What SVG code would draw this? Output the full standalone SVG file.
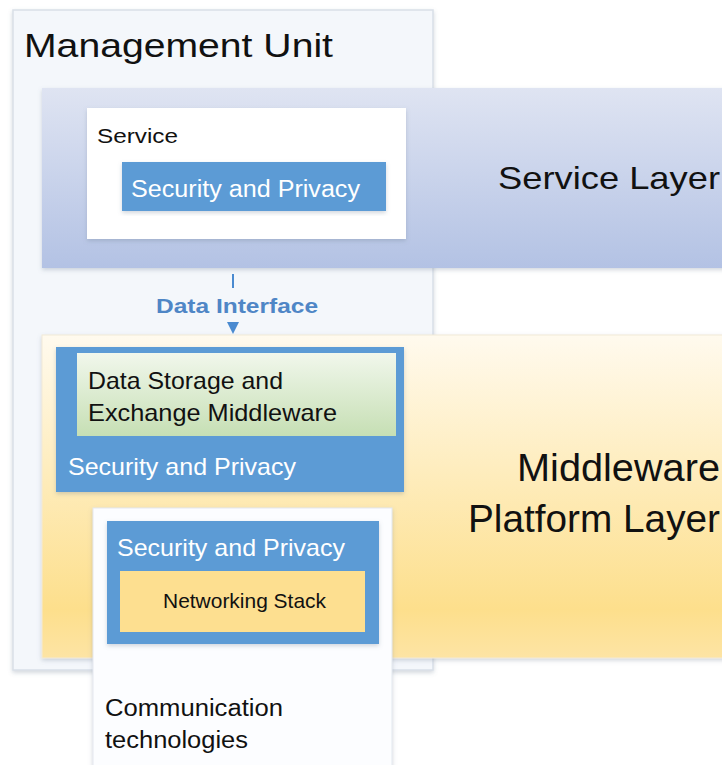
<svg xmlns="http://www.w3.org/2000/svg" width="722" height="765" viewBox="0 0 722 765">
<defs>
<style>
text{font-family:"Liberation Sans",Arial,sans-serif;fill:#111}
.w{fill:#fff}
.blue{fill:#5b9bd5}
.lbl{fill:#4f86c6;font-weight:bold}
</style>
<linearGradient id="gSvc" x1="0" y1="0" x2="0" y2="1">
<stop offset="0" stop-color="#dfe4f2"/>
<stop offset="1" stop-color="#b3c2e4"/>
</linearGradient>
<linearGradient id="gMid" x1="0" y1="0" x2="0" y2="1">
<stop offset="0" stop-color="#fffaee"/>
<stop offset="0.85" stop-color="#fddf8c"/>
<stop offset="1" stop-color="#fde4a4"/>
</linearGradient>
<linearGradient id="gGreen" x1="0" y1="0" x2="0" y2="1">
<stop offset="0" stop-color="#f1f7ec"/>
<stop offset="1" stop-color="#c6dfb4"/>
</linearGradient>
<filter id="sh" x="-5%" y="-5%" width="110%" height="115%">
<feDropShadow dx="0" dy="2" stdDeviation="2" flood-color="#6b7a90" flood-opacity="0.3"/>
</filter>
<marker id="arr" viewBox="0 0 12 12" refX="12" refY="6" markerWidth="12" markerHeight="12" markerUnits="userSpaceOnUse" orient="auto">
<path d="M0,0 L12,6 L0,12 Z" fill="#4a8ad0"/>
</marker>
</defs>

<g id="management-unit">
<rect x="13" y="10" width="420" height="660" fill="#f4f7fb" stroke="#d9dfe8" stroke-width="1.5" filter="url(#sh)"/>
<text x="24" y="57" font-size="34" textLength="309" lengthAdjust="spacingAndGlyphs">Management Unit</text>
</g>

<g id="service-layer">
<rect x="42" y="88" width="690" height="180" fill="url(#gSvc)" filter="url(#sh)"/>
<text x="498" y="189" font-size="32" textLength="222" lengthAdjust="spacingAndGlyphs">Service Layer</text>
</g>

<g id="service">
<rect x="87" y="108" width="319" height="131" fill="#fff" filter="url(#sh)"/>
<text x="97" y="143" font-size="21" textLength="81" lengthAdjust="spacingAndGlyphs">Service</text>
</g>

<g id="service-security">
<rect x="122" y="162" width="264" height="49" class="blue" filter="url(#sh)"/>
<text x="131" y="197" font-size="23" class="w" textLength="229" lengthAdjust="spacingAndGlyphs">Security and Privacy</text>
</g>

<g id="middleware-layer">
<rect x="42" y="335" width="690" height="323" fill="url(#gMid)" stroke="#f1ead8" stroke-width="1" filter="url(#sh)"/>
<text x="517" y="481" font-size="38" textLength="203" lengthAdjust="spacingAndGlyphs">Middleware</text>
<text x="468" y="532" font-size="38" textLength="252" lengthAdjust="spacingAndGlyphs">Platform Layer</text>
</g>

<g id="middleware-security">
<rect x="56" y="347" width="348" height="145" class="blue" filter="url(#sh)"/>
<text x="68" y="475" font-size="24" class="w" textLength="228" lengthAdjust="spacingAndGlyphs">Security and Privacy</text>
</g>

<g id="data-storage">
<rect x="77" y="353" width="319" height="83" fill="url(#gGreen)"/>
<text x="88" y="389" font-size="24" textLength="195" lengthAdjust="spacingAndGlyphs">Data Storage and</text>
<text x="88" y="421" font-size="24" textLength="249" lengthAdjust="spacingAndGlyphs">Exchange Middleware</text>
</g>

<g id="communication-technologies">
<rect x="93" y="508" width="299" height="262" fill="#fcfdff" stroke="#e3e8ef" stroke-width="1" filter="url(#sh)"/>
<text x="105" y="716" font-size="23" textLength="178" lengthAdjust="spacingAndGlyphs">Communication</text>
<text x="105" y="748" font-size="23" textLength="143" lengthAdjust="spacingAndGlyphs">technologies</text>
</g>

<g id="comm-security">
<rect x="107" y="521" width="272" height="123" class="blue" filter="url(#sh)"/>
<text x="117" y="556" font-size="24" class="w" textLength="228" lengthAdjust="spacingAndGlyphs">Security and Privacy</text>
</g>

<g id="networking-stack">
<rect x="120" y="571" width="245" height="61" fill="#fddf90"/>
<text x="163" y="608" font-size="21" textLength="163" lengthAdjust="spacingAndGlyphs">Networking Stack</text>
</g>

<g id="connectors">
<path d="M233,274 V288" stroke="#4a8ad0" stroke-width="2" fill="none"/>
<path d="M233,318 V334" stroke="none" fill="none" marker-end="url(#arr)"/>
<text x="156" y="313" font-size="21" class="lbl" textLength="162" lengthAdjust="spacingAndGlyphs">Data Interface</text>
</g>
</svg>
